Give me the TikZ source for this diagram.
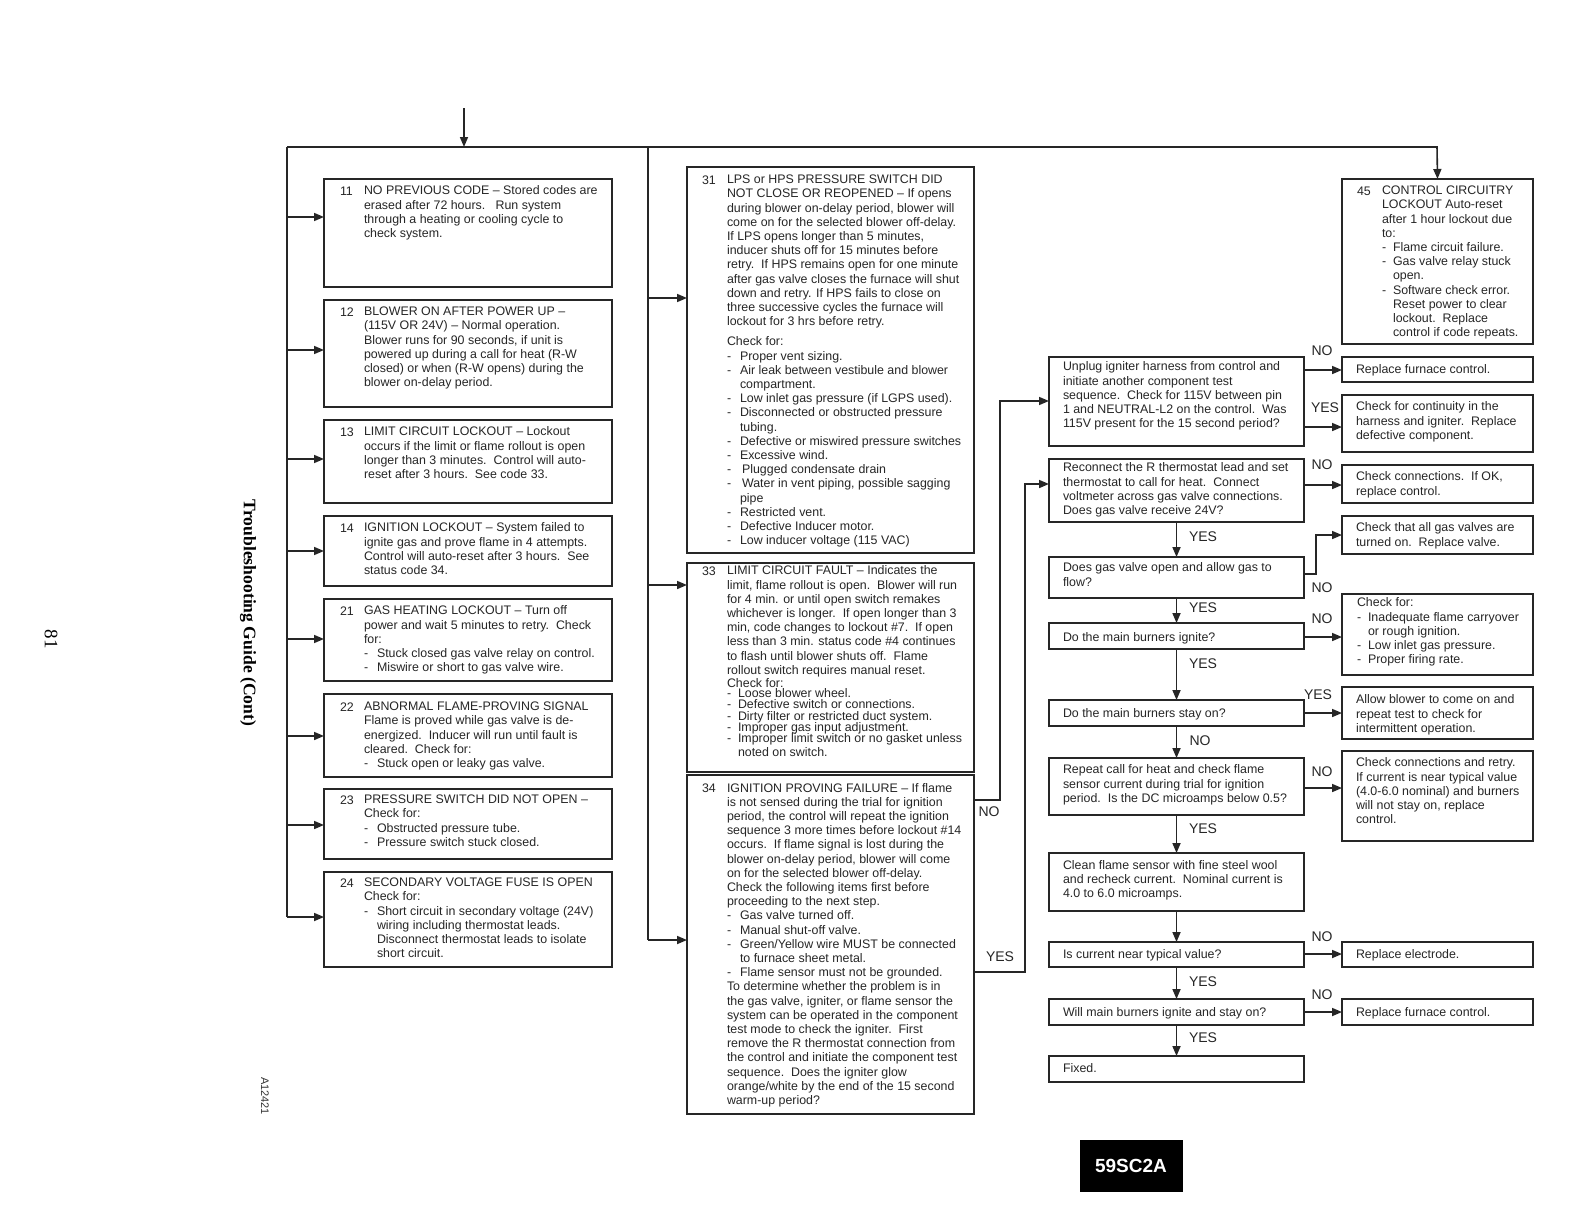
\documentclass[tikz,border=0pt]{standalone}
\usepackage{fontspec}
\setmainfont{Liberation Sans}
\newfontfamily\timesf{Liberation Serif}
\usetikzlibrary{arrows.meta}
\newcommand\dsh{\makebox[13pt][l]{-}}
\newcommand\ind{\hspace*{13pt}}
\newcommand\dshs{\makebox[11pt][l]{-}}
\newcommand\inds{\hspace*{11pt}}
\newcommand\mkbox[5]{\node[box, minimum width={#4-#2}, minimum height={#5-#3}] (#1) at ({(#2+#4)/2},{(#3+#5)/2}) {};}
\tikzset{
  box/.style={draw=black!85, line width=1.8pt, inner sep=0pt, outer sep=0pt},
  txt/.style={anchor=north west, inner sep=0pt, outer sep=0pt, align=left, text=black!85,
     font=\fontsize{12.4}{14.2}\selectfont, execute at begin node={\rule{0pt}{9.3pt}}},
  ln/.style={line width=1.6pt, draw=black!85},
  arr/.style={ln, -{Triangle[length=10pt,width=8pt]}},
  yn/.style={inner sep=0pt, text=black!85, font=\fontsize{14}{16}\selectfont}
}
\begin{document}
\begin{tikzpicture}[x=1pt,y=-1pt]
\fill[white] (0,0) rectangle (1584,1224);
\useasboundingbox (0,0) rectangle (1584,1224);

% ---------- left column boxes ----------
\mkbox{b11}{324}{179}{612}{287}
\mkbox{b12}{324}{300}{612}{407}
\mkbox{b13}{324}{420}{612}{503}
\mkbox{b14}{324}{516}{612}{586}
\mkbox{b21}{324}{599}{612}{681}
\mkbox{b22}{324}{694}{612}{777}
\mkbox{b23}{324}{789}{612}{859}
\mkbox{b24}{324}{872}{612}{967}
% ---------- middle column ----------
\mkbox{b31}{687}{167}{974}{553}
\mkbox{b33}{687}{563}{974}{772}
\mkbox{b34}{687}{775}{974}{1114}
% ---------- right area ----------
\mkbox{b45}{1342}{179}{1533}{344}
\mkbox{qU}{1049}{357}{1304}{446}
\mkbox{aRFa}{1342}{357}{1533}{382}
\mkbox{aCC}{1342}{395}{1533}{452}
\mkbox{qR}{1049}{459}{1304}{522}
\mkbox{aOK}{1342}{465}{1533}{503}
\mkbox{aGV}{1342}{516}{1533}{554}
\mkbox{qG}{1049}{557}{1304}{598}
\mkbox{qI}{1049}{623}{1304}{649}
\mkbox{aCF}{1342}{594}{1533}{675}
\mkbox{qS}{1049}{700}{1304}{726}
\mkbox{aAB}{1342}{687}{1533}{739}
\mkbox{qRp}{1049}{758}{1304}{815}
\mkbox{aCR}{1342}{751}{1533}{841}
\mkbox{qC}{1049}{853}{1304}{911}
\mkbox{qIC}{1049}{942}{1304}{967}
\mkbox{aRE}{1342}{942}{1533}{967}
\mkbox{qW}{1049}{999}{1304}{1025}
\mkbox{aRFb}{1342}{999}{1533}{1025}
\mkbox{qF}{1049}{1056}{1304}{1082}

% ---------- texts left ----------
\node[txt] (n11) at (340,186) {11};
\node[txt] (t11) at (364,186) {NO PREVIOUS CODE -- Stored codes are\\erased after 72 hours.\ \ \ Run system\\through a heating or cooling cycle to\\check system.};
\node[txt] (n12) at (340,307) {12};
\node[txt] (t12) at (364,307) {BLOWER ON AFTER POWER UP --\\(115V OR 24V) -- Normal operation.\\Blower runs for 90 seconds, if unit is\\powered up during a call for heat (R-W\\closed) or when (R-W opens) during the\\blower on-delay period.};
\node[txt] (n13) at (340,427) {13};
\node[txt] (t13) at (364,427) {LIMIT CIRCUIT LOCKOUT -- Lockout\\occurs if the limit or flame rollout is open\\longer than 3 minutes.\ \ Control will auto-\\reset after 3 hours.\ \ See code 33.};
\node[txt] (n14) at (340,523) {14};
\node[txt] (t14) at (364,523) {IGNITION LOCKOUT -- System failed to\\ignite gas and prove flame in 4 attempts.\\Control will auto-reset after 3 hours.\ \ See\\status code 34.};
\node[txt] (n21) at (340,606) {21};
\node[txt] (t21) at (364,606) {GAS HEATING LOCKOUT -- Turn off\\power and wait 5 minutes to retry.\ \ Check\\for:\\\dsh Stuck closed gas valve relay on control.\\\dsh Miswire or short to gas valve wire.};
\node[txt] (n22) at (340,702) {22};
\node[txt] (t22) at (364,702) {ABNORMAL FLAME-PROVING SIGNAL\\Flame is proved while gas valve is de-\\energized.\ \ Inducer will run until fault is\\cleared.\ \ Check for:\\\dsh Stuck open or leaky gas valve.};
\node[txt] (n23) at (340,795) {23};
\node[txt] (t23) at (364,795) {PRESSURE SWITCH DID NOT OPEN --\\Check for:\\\dsh Obstructed pressure tube.\\\dsh Pressure switch stuck closed.};
\node[txt] (n24) at (340,878) {24};
\node[txt] (t24) at (364,878) {SECONDARY VOLTAGE FUSE IS OPEN\\Check for:\\\dsh Short circuit in secondary voltage (24V)\\\ind wiring including thermostat leads.\\\ind Disconnect thermostat leads to isolate\\\ind short circuit.};

% ---------- texts middle ----------
\node[txt] (n31) at (702,175) {31};
\node[txt] (t31) at (727,175) {LPS or HPS PRESSURE SWITCH DID\\NOT CLOSE OR REOPENED -- If opens\\during blower on-delay period, blower will\\come on for the selected blower off-delay.\\If LPS opens longer than 5 minutes,\\inducer shuts off for 15 minutes before\\retry.\ \ If HPS remains open for one minute\\after gas valve closes the furnace will shut\\down and retry. If HPS fails to close on\\three successive cycles the furnace will\\lockout for 3 hrs before retry.\\[6pt]Check for:\\\dsh Proper vent sizing.\\\dsh Air leak between vestibule and blower\\\ind compartment.\\\dsh Low inlet gas pressure (if LGPS used).\\\dsh Disconnected or obstructed pressure\\\ind tubing.\\\dsh Defective or miswired pressure switches\\\dsh Excessive wind.\\\dsh\,Plugged condensate drain\\\dsh\,Water in vent piping, possible sagging\\\ind pipe\\\dsh Restricted vent.\\\dsh Defective Inducer motor.\\\dsh Low inducer voltage (115 VAC)};
\node[txt] (n33) at (702,566) {33};
\node[txt] (t33) at (727,566) {LIMIT CIRCUIT FAULT -- Indicates the\\limit, flame rollout is open.\ \ Blower will run\\for 4 min. or until open switch remakes\\whichever is longer.\ \ If open longer than 3\\min, code changes to lockout \#7.\ \ If open\\less than 3 min. status code \#4 continues\\to flash until blower shuts off.\ \ Flame\\rollout switch requires manual reset.\\[-1pt]Check for:\\[-4pt]\makebox[11pt][l]{-}Loose blower wheel.\\[-3pt]\makebox[11pt][l]{-}Defective switch or connections.\\[-3pt]\makebox[11pt][l]{-}Dirty filter or restricted duct system.\\[-3pt]\makebox[11pt][l]{-}Improper gas input adjustment.\\[-3pt]\makebox[11pt][l]{-}Improper limit switch or no gasket unless\\\hspace*{11pt}noted on switch.};
\node[txt] (n34) at (702,783) {34};
\node[txt] (t34) at (727,783) {IGNITION PROVING FAILURE -- If flame\\is not sensed during the trial for ignition\\period, the control will repeat the ignition\\sequence 3 more times before lockout \#14\\occurs.\ \ If flame signal is lost during the\\blower on-delay period, blower will come\\on for the selected blower off-delay.\\Check the following items first before\\proceeding to the next step.\\\dsh Gas valve turned off.\\\dsh Manual shut-off valve.\\\dsh Green/Yellow wire MUST be connected\\\ind to furnace sheet metal.\\\dsh Flame sensor must not be grounded.\\To determine whether the problem is in\\the gas valve, igniter, or flame sensor the\\system can be operated in the component\\test mode to check the igniter.\ \ First\\remove the R thermostat connection from\\the control and initiate the component test\\sequence.\ \ Does the igniter glow\\orange/white by the end of the 15 second\\warm-up period?};

% ---------- texts right ----------
\node[txt] (n45) at (1357,186) {45};
\node[txt] (t45) at (1382,186) {CONTROL CIRCUITRY\\LOCKOUT Auto-reset\\after 1 hour lockout due\\to:\\\dshs Flame circuit failure.\\\dshs Gas valve relay stuck\\\inds open.\\\dshs Software check error.\\\inds Reset power to clear\\\inds lockout.\ \ Replace\\\inds control if code repeats.};
\node[txt] (tqU) at (1063,362) {Unplug igniter harness from control and\\initiate another component test\\sequence.\ \ Check for 115V between pin\\1 and NEUTRAL-L2 on the control.\ \ Was\\115V present for the 15 second period?};
\node[txt] (taRFa) at (1356,364) {Replace furnace control.};
\node[txt] (taCC) at (1356,402) {Check for continuity in the\\harness and igniter.\ \ Replace\\defective component.};
\node[txt] (tqR) at (1063,463) {Reconnect the R thermostat lead and set\\thermostat to call for heat.\ \ Connect\\voltmeter across gas valve connections.\\Does gas valve receive 24V?};
\node[txt] (taOK) at (1356,472) {Check connections.\ \ If OK,\\replace control.};
\node[txt] (taGV) at (1356,523) {Check that all gas valves are\\turned on.\ \ Replace valve.};
\node[txt] (tqG) at (1063,563) {Does gas valve open and allow gas to\\flow?};
\node[txt] (tqI) at (1063,632) {Do the main burners ignite?};
\node[txt] (taCF) at (1357,598) {Check for:\\\dshs Inadequate flame carryover\\\inds or rough ignition.\\\dshs Low inlet gas pressure.\\\dshs Proper firing rate.};
\node[txt] (tqS) at (1063,708) {Do the main burners stay on?};
\node[txt] (taAB) at (1356,695) {Allow blower to come on and\\repeat test to check for\\intermittent operation.};
\node[txt] (tqRp) at (1063,765) {Repeat call for heat and check flame\\sensor current during trial for ignition\\period.\ \ Is the DC microamps below 0.5?};
\node[txt] (taCR) at (1356,758) {Check connections and retry.\\If current is near typical value\\(4.0-6.0 nominal) and burners\\will not stay on, replace\\control.};
\node[txt] (tqC) at (1063,860) {Clean flame sensor with fine steel wool\\and recheck current.\ \ Nominal current is\\4.0 to 6.0 microamps.};
\node[txt] (tqIC) at (1063,949) {Is current near typical value?};
\node[txt] (taRE) at (1356,949) {Replace electrode.};
\node[txt] (tqW) at (1063,1007) {Will main burners ignite and stay on?};
\node[txt] (taRFb) at (1356,1007) {Replace furnace control.};
\node[txt] (tqF) at (1063,1063) {Fixed.};

% ---------- buses and connectors ----------
\coordinate (in) at (464,108);
\coordinate (busTL) at (287,147);
\coordinate (busTR) at (1437,147);
\coordinate (busBL) at (287,917);
\coordinate (busM) at (648,147);
\coordinate (busMB) at (648,940);
\draw[arr] (in) -- (464,147);
\draw[arr] (busTL) -- (busTR) -- (b45.north);
\draw[ln] (busTL) -- (busBL);
\draw[ln] (busM) -- (busMB);
\foreach \b/\y in {b11/217,b12/350,b13/459,b14/551,b21/639,b22/736,b23/825,b24/917}
  \draw[arr] (287,\y) -- (\b.west |- 0,\y);
\foreach \b/\y in {b31/298,b33/585,b34/940}
  \draw[arr] (648,\y) -- (\b.west |- 0,\y);

% box 34 exits
\draw[arr] (b34.east |- 0,800) -- (1000,800) -- (1000,401) -- (qU.west |- 0,401);
\draw[arr] (b34.east |- 0,972) -- (1025,972) -- (1025,484) -- (qR.west |- 0,484);
\node[yn] (l34n) at (989,812) {NO};
\node[yn] (l34y) at (1000,957) {YES};

% right horizontal arrows
\draw[arr] (qU.east |- 0,370) -- (aRFa.west |- 0,370);
\draw[arr] (qU.east |- 0,427) -- (aCC.west |- 0,427);
\draw[arr] (qR.east |- 0,485) -- (aOK.west |- 0,485);
\draw[arr] (qG.east |- 0,574) -- (1316,574) -- (1316,535) -- (aGV.west |- 0,535);
\draw[arr] (qI.east |- 0,637) -- (aCF.west |- 0,637);
\draw[arr] (qS.east |- 0,713) -- (aAB.west |- 0,713);
\draw[arr] (qRp.east |- 0,788) -- (aCR.west |- 0,788);
\draw[arr] (qIC.east |- 0,954) -- (aRE.west |- 0,954);
\draw[arr] (qW.east |- 0,1012) -- (aRFb.west |- 0,1012);
% vertical arrows
\draw[arr] (qR.south) -- (qG.north);
\draw[arr] (qG.south) -- (qI.north);
\draw[arr] (qI.south) -- (qS.north);
\draw[arr] (qS.south) -- (qRp.north);
\draw[arr] (qRp.south) -- (qC.north);
\draw[arr] (qC.south) -- (qIC.north);
\draw[arr] (qIC.south) -- (qW.north);
\draw[arr] (qW.south) -- (qF.north);

% YES / NO labels
\node[yn] (lA) at (1322,351) {NO};
\node[yn] (lB) at (1325,408) {YES};
\node[yn] (lC) at (1322,465) {NO};
\node[yn] (lD) at (1203,537) {YES};
\node[yn] (lE) at (1322,588) {NO};
\node[yn] (lF) at (1203,608) {YES};
\node[yn] (lG) at (1322,619) {NO};
\node[yn] (lH) at (1203,664) {YES};
\node[yn] (lI) at (1318,695) {YES};
\node[yn] (lJ) at (1200,741) {NO};
\node[yn] (lK) at (1322,772) {NO};
\node[yn] (lL) at (1203,829) {YES};
\node[yn] (lM) at (1322,937) {NO};
\node[yn] (lN) at (1203,982) {YES};
\node[yn] (lO) at (1322,995) {NO};
\node[yn] (lP) at (1203,1038) {YES};

% side texts
\node[rotate=-90, inner sep=0pt, font=\timesf\bfseries\fontsize{17.6}{19}\selectfont] (title) at (248,613) {Troubleshooting Guide (Cont)};
\node[rotate=-90, inner sep=0pt, font=\timesf\fontsize{19}{21}\selectfont] (page) at (51,639) {81};
\node[rotate=-90, inner sep=0pt, text=black!80, font=\fontsize{11}{12}\selectfont] (code) at (265,1096) {A12421};
\node[fill=black, text=white, inner sep=0pt, minimum width=103pt, minimum height=52pt, font=\bfseries\fontsize{19}{20}\selectfont] (model) at (1131,1166) {59SC2A};
\end{tikzpicture}
\end{document}
